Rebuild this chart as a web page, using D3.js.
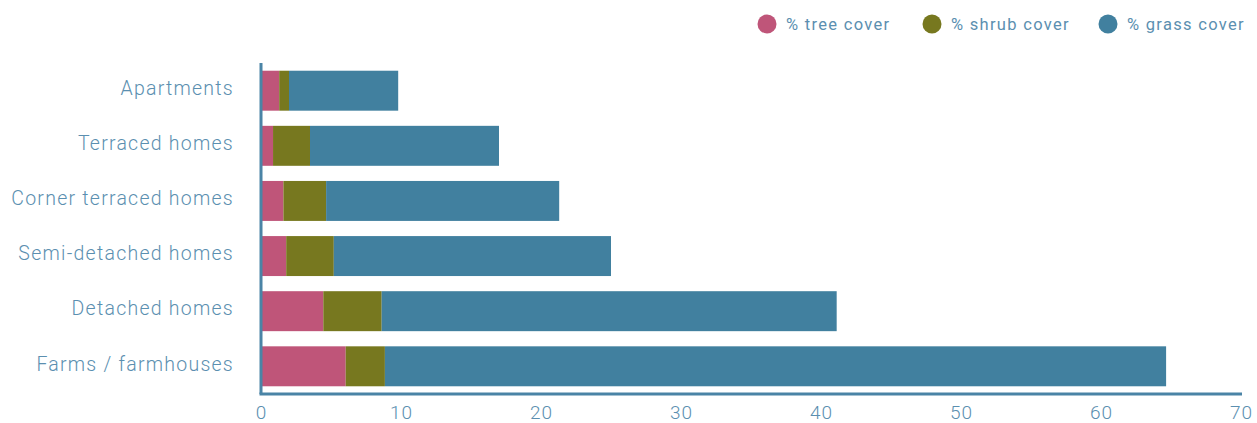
<!DOCTYPE html>
<html><head><meta charset="utf-8">
<script src="https://cdn.jsdelivr.net/npm/d3@7/dist/d3.min.js"></script>
<style>body{margin:0;background:#fff}svg{display:block}text{font-family:"Roboto",sans-serif}</style>
</head><body><div id="chart"></div>
<script>
const categories = ["Apartments","Terraced homes","Corner terraced homes","Semi-detached homes","Detached homes","Farms / farmhouses"];
const treeCover  = [1.3, 0.86, 1.6, 1.8, 4.45, 6.05];
const shrubCover = [0.7, 2.64, 3.05, 3.4, 4.17, 2.8];
const grassCover = [7.8, 13.5, 16.65, 19.8, 32.5, 55.8];
const seriesNames = ["% tree cover","% shrub cover","% grass cover"];
const seriesKeys = ["tree","shrub","grass"];
const colors = ["#bf5579","#77781f","#41809f"];
const xTicks = [0,10,20,30,40,50,60,70];

const W=1257,H=423;
const svg=d3.select("#chart").append("svg").attr("width",W).attr("height",H);
const textColor="#5b8fb0", axisColor="#4a84a6";

const rows=categories.map((c,i)=>({cat:c,tree:treeCover[i],shrub:shrubCover[i],grass:grassCover[i]}));
const stacked=d3.stack().keys(seriesKeys)(rows);

const x=d3.scaleLinear().domain([0,70]).range([261,1241]);
const y=d3.scaleBand().domain(categories).range([63,394]).paddingInner(0.275).paddingOuter(0.14);

svg.append("g").selectAll("g").data(stacked).join("g").attr("fill",(d,i)=>colors[i])
  .selectAll("rect").data(d=>d).join("rect")
  .attr("x",d=>x(d[0])).attr("width",d=>x(d[1])-x(d[0]))
  .attr("y",d=>y(d.data.cat)).attr("height",y.bandwidth());

// axes lines
svg.append("line").attr("x1",261).attr("x2",261).attr("y1",63).attr("y2",394).attr("stroke",axisColor).attr("stroke-width",3);
svg.append("line").attr("x1",259.5).attr("x2",1242).attr("y1",394).attr("y2",394).attr("stroke",axisColor).attr("stroke-width",3);

const xAxis=svg.append("g").attr("transform","translate(0,394)")
  .call(d3.axisBottom(x).tickValues(xTicks).tickSize(0).tickPadding(12));
xAxis.select(".domain").remove();
xAxis.selectAll("text").attr("fill",textColor).attr("font-size",19).style("font-family","Roboto, sans-serif").attr("font-weight",300).style("letter-spacing","1px");

const yAxis=svg.append("g").attr("transform","translate(261,-2)")
  .call(d3.axisLeft(y).tickSize(0).tickPadding(27));
yAxis.select(".domain").remove();
yAxis.selectAll("text").attr("fill",textColor).attr("font-size",19.5).style("font-family","Roboto, sans-serif").attr("font-weight",300).style("letter-spacing","1.25px");

// legend
const legX=[767,932,1108];
const leg=svg.append("g").selectAll("g").data(seriesNames).join("g")
  .attr("transform",(d,i)=>`translate(${legX[i]},24)`);
leg.append("circle").attr("r",9.5).attr("fill",(d,i)=>colors[i]);
leg.append("text").attr("x",19).attr("dy","0.35em").attr("font-size",16.5).attr("fill",textColor).style("letter-spacing","1.3px").text(d=>d);
</script></body></html>
